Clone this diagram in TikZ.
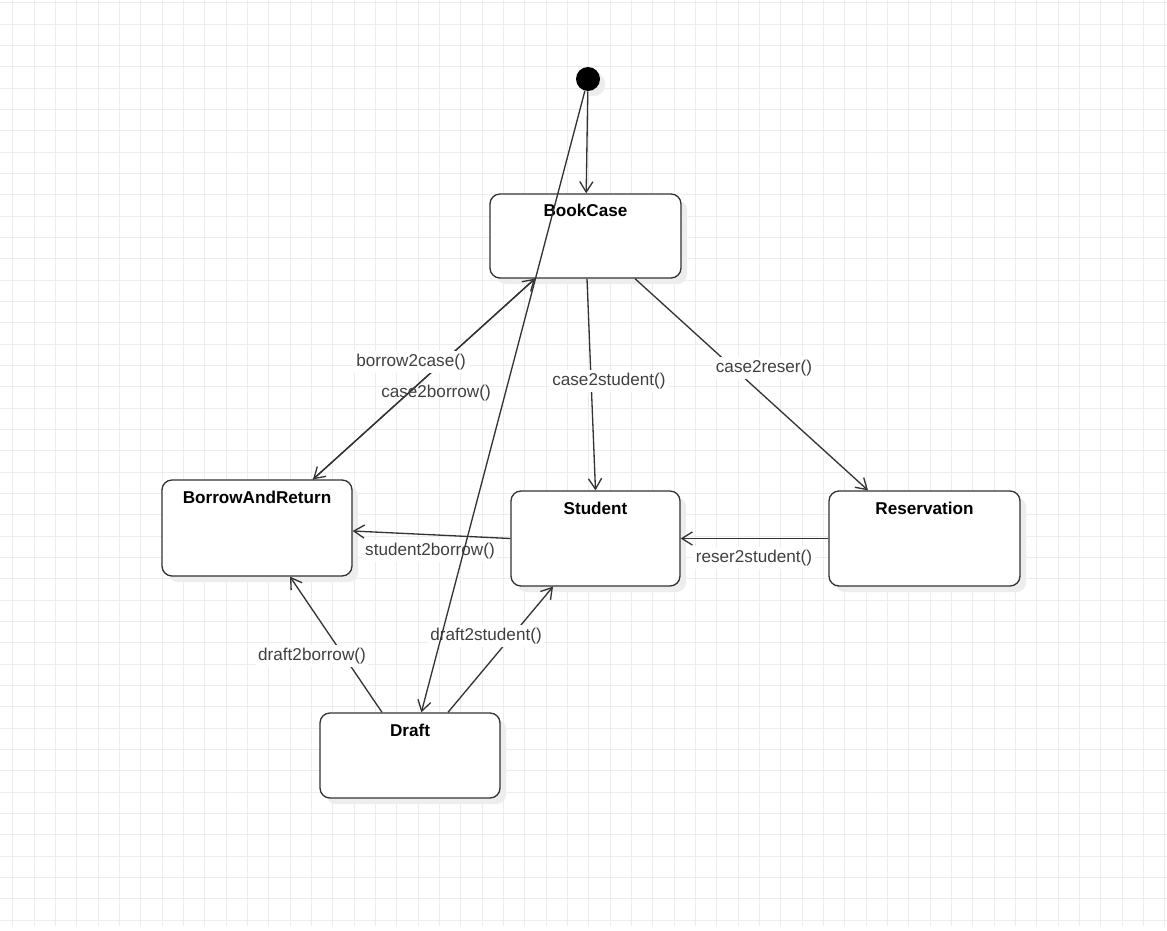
\documentclass[tikz,border=0pt]{standalone}
\usepackage{fontspec}
\setmainfont{Liberation Sans}
\usetikzlibrary{arrows.meta, positioning, shadows}

\begin{document}
\begin{tikzpicture}[
    state/.style={rectangle, draw=black!80, line width=0.75pt, fill=white, rounded corners=0.2cm, font=\fontsize{9.75}{12}\selectfont\bfseries, inner sep=0pt, text height=0.46cm, align=center, drop shadow={shadow xshift=3.5pt, shadow yshift=-3.5pt, fill=black!7, opacity=1}},
    start/.style={circle, fill=black, minimum size=0.48cm, inner sep=0pt, drop shadow={shadow xshift=3pt, shadow yshift=-3pt, fill=black!7, opacity=1}},
    line/.style={draw, black!80, line width=0.75pt, -{Straight Barb[length=6pt, width=7.5pt]}},
    msg/.style={fill=white, text=black!75, font=\fontsize{9.75}{12}\selectfont, inner sep=1.5pt},
    gridline/.style={draw, black!7, line width=0.6pt}
]

% Background grid
\useasboundingbox (0,0) rectangle (23.34,-18.62);
\fill [white] (0,0) rectangle (23.34,-18.62);
\foreach \x in {0,...,54}
    \path [gridline] ({0.254+0.4267*\x},0) -- ({0.254+0.4267*\x},-18.52);
\foreach \y in {0,...,43}
    \path [gridline] (0,{-0.054-0.4267*\y}) -- (23.34,{-0.054-0.4267*\y});

% Nodes
\node [start] (init) at (11.76,-1.58) {};
\node [state, text width=3.82cm, text depth=1.22cm] (bookcase) at (11.71,-4.72) {BookCase};
\node [state, text width=3.80cm, text depth=1.46cm] (borrow) at (5.14,-10.56) {BorrowAndReturn};
\node [state, text width=3.38cm, text depth=1.44cm] (student) at (11.91,-10.77) {Student};
\node [state, text width=3.82cm, text depth=1.44cm] (reserve) at (18.49,-10.77) {Reservation};
\node [state, text width=3.60cm, text depth=1.24cm] (draft) at (8.20,-15.11) {Draft};

% Lines
\path [line] (init) -- (bookcase);
\path [line] ([xshift=1.12cm]borrow.north) -- ([xshift=-1.01cm]bookcase.south);
\path [line] ([xshift=-1.01cm]bookcase.south) -- ([xshift=1.12cm]borrow.north);
\path [line] ([xshift=0.03cm]bookcase.south) -- (student.north);
\path [line] ([xshift=0.99cm]bookcase.south) -- ([xshift=-1.13cm]reserve.north);
\path [line] (student.west) -- ([yshift=-0.06cm]borrow.east);
\path [line] (reserve.west) -- (student.east);
\path [line] ([xshift=-0.56cm]draft.north) -- ([xshift=0.66cm]borrow.south);
\path [line] ([xshift=0.76cm]draft.north) -- ([xshift=-0.85cm]student.south);

% Labels
\node [msg] (b2c) at (8.22,-7.24) {borrow2case()};
\node [msg, fill=none] (c2b) at (8.72,-7.86) {case2borrow()};
\node [msg] (c2s) at (12.18,-7.62) {case2student()};
\node [msg] (c2r) at (15.28,-7.36) {case2reser()};
\node [msg] (s2b) at (8.60,-11.02) {student2borrow()};
\node [msg] (r2s) at (15.08,-11.16) {reser2student()};
\node [msg] (d2b) at (6.24,-13.12) {draft2borrow()};
\node [msg] (d2s) at (9.72,-12.72) {draft2student()};

\path [line] (init) -- (draft);

\end{tikzpicture}
\end{document}
